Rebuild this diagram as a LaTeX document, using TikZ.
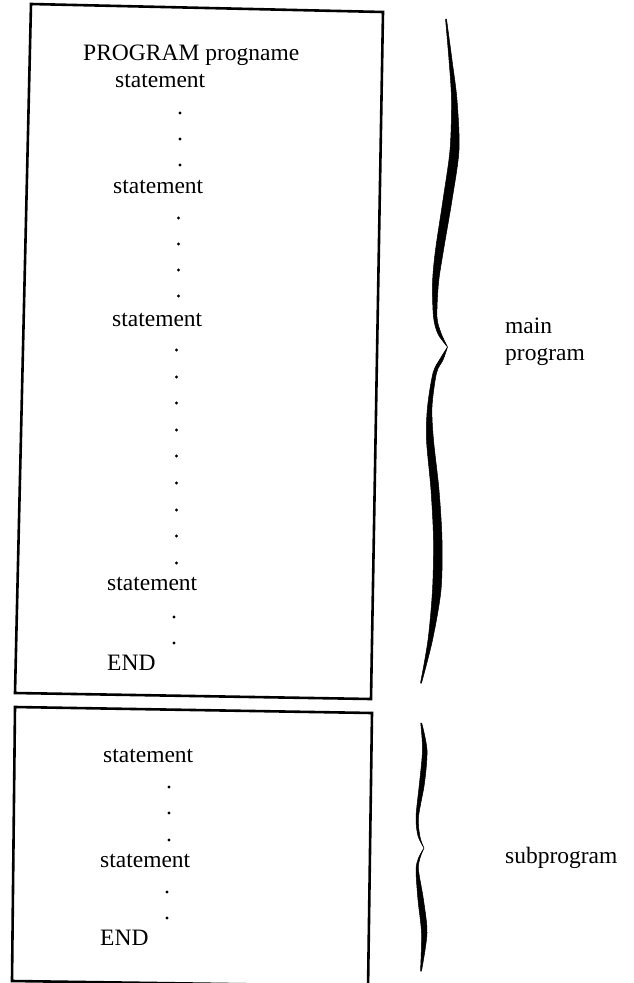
\documentclass[tikz,border=0pt]{standalone}
\usepackage{fontspec}
\setmainfont{Liberation Serif}
\begin{document}
\begin{tikzpicture}[x=1pt,y=-1pt,
  txt/.style={anchor=base west,inner sep=0pt,font=\fontsize{23.5}{27}\selectfont},
  boxline/.style={line width=2.6pt,line join=miter},
  bracefill/.style={fill=black,draw=black,line width=0.5pt,line join=round}]
\useasboundingbox (0,0) rectangle (633,983);
% boxes
\draw[boxline] (31,4) -- (383,12) -- (371,699) -- (15,693) -- cycle;
\draw[boxline] (368,990) -- (372,713) -- (15,707) -- (12,981) -- (368,986);
% main program text
\node[txt] (prog) at (83,60) {PROGRAM progname};
\node[txt] (s1) at (115,87) {statement};
\node[txt] (s2) at (113,193) {statement};
\node[txt] (s3) at (112,326) {statement};
\node[txt] (s4) at (107,590) {statement};
\node[txt] (end1) at (107,670) {END};
\foreach \y in {113,139,165} \fill (180,\y) circle (1.7);
\foreach \y in {218,244,270,296} \fill (178.5,\y) circle (1.7);
\foreach \y in {350,377,403,430,456,483,510,536,563} \fill (176.5,\y) circle (1.7);
\foreach \y in {617,643} \fill (174,\y) circle (1.7);
% subprogram text
\node[txt] (t1) at (103,762) {statement};
\node[txt] (t2) at (100,867) {statement};
\node[txt] (end2) at (100,945) {END};
\foreach \y in {787,813,840} \fill (169,\y) circle (1.7);
\foreach \y in {892,918} \fill (167,\y) circle (1.7);
% labels
\node[txt] (main) at (505,333) {main};
\node[txt] (mainp) at (505,360) {program};
\node[txt] (sub) at (505,863) {subprogram};
% brace 1 upper
\path[bracefill] plot[smooth] coordinates {(445.5,19) (449,60) (451.5,100) (450,150) (443,200) (435.5,250) (432.5,283) (433.5,317) (438,334) (447.5,347)}
  -- plot[smooth] coordinates {(447.5,347) (441,333) (437,317) (438.5,283) (443.5,250) (452,200) (459,150) (457,100) (452,60) (446.5,19)} -- cycle;
% brace 1 lower
\path[bracefill] plot[smooth] coordinates {(447.5,347) (440,359) (433,373) (427.5,407) (426.5,440) (431,490) (433.5,540) (432.5,590) (428,640) (420.5,683)}
  -- plot[smooth] coordinates {(421.5,683) (432.5,640) (441,590) (442,540) (439,490) (433.5,440) (432,407) (436.5,373) (443,360) (447.5,347)} -- cycle;
% brace 2 upper
\path[bracefill] plot[smooth] coordinates {(420.7,723) (422.5,750) (419.5,783) (416,817) (418,836) (424,848)}
  -- plot[smooth] coordinates {(424,848) (420,837) (418.5,817) (424.5,783) (427,750) (421.7,723)} -- cycle;
% brace 2 lower
\path[bracefill] plot[smooth] coordinates {(424,848) (418.5,858) (416,870) (418,900) (421.5,933) (420.5,971)}
  -- plot[smooth] coordinates {(421.5,971) (427,933) (423.5,900) (418.5,870) (420,858) (424,848)} -- cycle;
\end{tikzpicture}
\end{document}
